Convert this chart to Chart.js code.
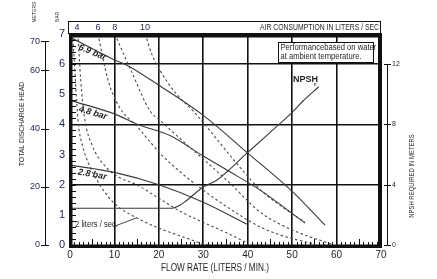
<!DOCTYPE html>
<html>
<head>
<meta charset="utf-8">
<script src="https://cdn.jsdelivr.net/npm/chart.js@4.4.0/dist/chart.umd.min.js"></script>
<style>
  html, body { margin: 0; padding: 0; background: #fff; }
  #wrap { width: 437px; height: 279px; }
</style>
</head>
<body>
<div id="wrap"><canvas id="pump-chart" width="437" height="279"></canvas></div>
<script>
// Pump performance data
// flow in liters/min, head in bar, NPSH in meters
const flowTicks = [0, 10, 20, 30, 40, 50, 60, 70];
const barTicks = [0, 1, 2, 3, 4, 5, 6, 7];
const meterTicks = [0, 20, 40, 60, 70];
const npshTicks = [0, 4, 8, 12];
const airTopLabels = ['4', '6', '8', '10'];
const airTopFlow = [1.6, 6.3, 10.1, 16.9];

// solid pressure curves
const head69Flow = [0, 10, 13, 20, 30, 40, 50, 57.4];
const head69Bar  = [6.9, 6.14, 5.95, 5.3, 4.3, 3.05, 1.78, 0.66];
const head48Flow = [0, 10, 15.3, 22.5, 30, 35.4, 42.8, 52.9];
const head48Bar  = [4.8, 4.35, 4.0, 3.63, 2.95, 2.48, 1.82, 0.73];
const head28Flow = [0, 10, 20, 30, 40];
const head28Bar  = [2.65, 2.41, 2.0, 1.42, 0.68];

// dashed air consumption curves (liters / sec)
const air2Flow  = [0.6, 1.0, 1.4, 1.9, 2.8, 4.2, 6.1, 8, 9.7, 12, 15, 19, 22.5, 26, 29, 31];
const air2Bar   = [7, 6, 5, 4, 3.3, 2.7, 2.14, 1.72, 1.42, 1.15, 0.9, 0.62, 0.42, 0.24, 0.08, 0];
const air4Flow  = [1.8, 2.4, 3.3, 5, 8, 11, 15, 20, 25, 30, 35, 40];
const air4Bar   = [7, 5.5, 4.2, 3.3, 2.6, 2.25, 2.0, 1.55, 1.1, 0.75, 0.42, 0.06];
const air6Flow  = [6.3, 8.5, 11, 15.3, 20.3, 25, 30, 36, 42.8, 48, 55];
const air6Bar   = [7, 5.5, 4.6, 3.9, 3.04, 2.4, 1.82, 1.2, 0.6, 0.3, 0.03];
const air8Flow  = [10.1, 14, 18, 20.3, 25, 30, 36, 42.8, 50, 59];
const air8Bar   = [7, 5.7, 4.45, 4.13, 3.5, 2.85, 2.05, 1.09, 0.5, 0.02];
const air10Flow = [16.9, 18.5, 20.3, 24, 27.7, 32, 37, 42.8, 48, 52.9];
const air10Bar  = [7, 6.3, 5.78, 5.0, 4.45, 3.7, 2.8, 1.84, 1.24, 0.75];

// NPSH required (meters)
const npshFlow = [0, 23, 24.5, 26, 30, 33, 40, 45, 50, 52.5, 56];
const npshM    = [2.44, 2.44, 2.6, 2.9, 3.85, 4.3, 6.14, 7.46, 8.8, 9.57, 10.5];

const FONT = '"Liberation Sans Narrow", "Liberation Sans", sans-serif';
const INK = '#231f20';

function pts(xs, ys) {
    return xs.map((x, i) => ({ x: x, y: ys[i] }));
}

function solid(label, xs, ys) {
    return {
        label: label, data: pts(xs, ys), yAxisID: 'y',
        borderColor: '#3a3a3a', borderWidth: 1.1,
        pointRadius: 0, cubicInterpolationMode: 'monotone', fill: false
    };
}

function dashed(label, xs, ys) {
    return {
        label: label, data: pts(xs, ys), yAxisID: 'y',
        borderColor: '#4a4a4a', borderWidth: 1.1, borderDash: [2.5, 2.5],
        pointRadius: 0, cubicInterpolationMode: 'monotone', fill: false
    };
}

// condensed text helper
function narrowText(c, t, x, y, sx) {
    c.save();
    c.translate(x, y);
    c.scale(sx, 1);
    c.fillText(t, 0, 0);
    c.restore();
}

// frame, header, annotations and the extra axis decorations
const decorPlugin = {
    id: 'decor',
    afterDraw(chart) {
        const c = chart.ctx;
        const a = chart.chartArea;
        const xs = chart.scales.x, ys = chart.scales.y;
        const ms = chart.scales.meters, ns = chart.scales.npsh;
        c.save();
        c.strokeStyle = '#111';
        c.fillStyle = '#111';

        // thick frame
        c.fillRect(a.left - 1, a.top, 3.5, a.bottom - a.top + 2);
        c.fillRect(a.left - 1, a.bottom - 0.5, a.right - a.left + 2, 3.5);
        c.fillRect(a.right - 3, a.top, 4, a.bottom - a.top + 3);
        c.fillRect(a.left - 1, a.top - 1, a.right - a.left + 2, 4.5);

        // ruler ticks on left and bottom borders
        c.lineWidth = 1;
        for (let b = 0.2; b < 7; b += 0.2) {
            const py = Math.round(ys.getPixelForValue(b)) + 0.5;
            c.beginPath(); c.moveTo(a.left + 2, py); c.lineTo(a.left + 6, py); c.stroke();
        }
        for (let f = 1; f < 70; f++) {
            if (f % 10 === 0) continue;
            const px = Math.round(xs.getPixelForValue(f)) + 0.5;
            const len = f % 5 === 0 ? 6 : 3;
            c.beginPath(); c.moveTo(px, a.bottom); c.lineTo(px, a.bottom - len); c.stroke();
        }

        // header box for air consumption
        c.lineWidth = 1;
        c.strokeRect(a.left - 1.5, 21.5, a.right - a.left + 1, 12);
        c.font = '9px ' + FONT;
        c.fillStyle = '#1d2350';
        c.textBaseline = 'middle';
        c.textAlign = 'center';
        airTopLabels.forEach((t, i) => c.fillText(t, xs.getPixelForValue(airTopFlow[i]), 28));
        c.fillStyle = INK;
        c.textAlign = 'right';
        narrowText(c, 'AIR CONSUMPTION IN LITERS / SEC', a.right - 2, 28, 0.76);

        // meters axis line and ticks
        const mx = 45.5;
        c.lineWidth = 1;
        c.beginPath();
        c.moveTo(mx, ms.getPixelForValue(70)); c.lineTo(mx, ms.getPixelForValue(0)); c.stroke();
        meterTicks.forEach(v => {
            const py = Math.round(ms.getPixelForValue(v)) + 0.5;
            c.beginPath(); c.moveTo(41, py); c.lineTo(49, py); c.stroke();
        });

        // npsh axis line and ticks
        const nx = 387.5;
        c.beginPath();
        c.moveTo(nx, ns.getPixelForValue(12)); c.lineTo(nx, ns.getPixelForValue(0)); c.stroke();
        npshTicks.forEach(v => {
            const py = Math.round(ns.getPixelForValue(v)) + 0.5;
            c.beginPath(); c.moveTo(384, py); c.lineTo(391, py); c.stroke();
        });

        // axis titles
        c.fillStyle = INK;
        c.textAlign = 'center';
        c.font = '8px ' + FONT;
        c.save(); c.translate(22, 124); c.rotate(-Math.PI / 2);
        narrowText(c, 'TOTAL DISCHARGE HEAD', 0, 0, 0.85); c.restore();
        c.font = '7px ' + FONT;
        c.save(); c.translate(412, 176); c.rotate(-Math.PI / 2);
        narrowText(c, 'NPSH REQUIRED IN METERS', 0, 0, 0.85); c.restore();
        c.font = '5px ' + FONT;
        c.save(); c.translate(35, 12); c.rotate(-Math.PI / 2);
        c.fillText('METERS', 0, 0); c.restore();
        c.save(); c.translate(58, 17); c.rotate(-Math.PI / 2);
        c.fillText('BAR', 0, 0); c.restore();
        c.font = '10px ' + FONT;
        narrowText(c, 'FLOW RATE (LITERS / MIN.)', 215, 268, 0.82);

        // note box
        c.fillStyle = '#fff';
        c.fillRect(278, 42, 96, 20);
        c.strokeStyle = '#111';
        c.strokeRect(278.5, 42.5, 95, 20);
        c.fillStyle = INK;
        c.textAlign = 'left';
        c.font = '8.3px ' + FONT;
        narrowText(c, 'Performancebased on water', 280.5, 47.5, 0.92);
        narrowText(c, 'at ambient temperature.', 280.5, 57, 0.92);

        // curve labels
        c.font = 'bold italic 9px ' + FONT;
        const curveLabel = (t, x, y, ang) => {
            c.save(); c.translate(x, y); c.rotate(ang * Math.PI / 180);
            c.fillText(t, 0, 0); c.restore();
        };
        curveLabel('6.9 bar', 79, 47, 22);
        curveLabel('4.8 bar', 79, 109, 16);
        curveLabel('2.8 bar', 78, 172, 10);
        c.font = 'bold 9px ' + FONT;
        c.fillText('NPSH', 293, 80);
        c.font = 'bold 6px ' + FONT;
        c.fillText('r', 314, 84);

        // 2 liters / sec label with leader
        c.font = '8.5px ' + FONT;
        narrowText(c, '2 liters / sec.', 75, 225, 0.9);
        c.strokeStyle = '#333';
        c.lineWidth = 0.9;
        c.beginPath();
        c.moveTo(115, 226); c.lineTo(xs.getPixelForValue(15), ys.getPixelForValue(0.9)); c.stroke();
        c.restore();
    }
};

const ctx = document.getElementById('pump-chart');
new Chart(ctx, {
    type: 'line',
    data: {
        datasets: [
            solid('6.9 bar', head69Flow, head69Bar),
            solid('4.8 bar', head48Flow, head48Bar),
            solid('2.8 bar', head28Flow, head28Bar),
            dashed('2 l/s', air2Flow, air2Bar),
            dashed('4 l/s', air4Flow, air4Bar),
            dashed('6 l/s', air6Flow, air6Bar),
            dashed('8 l/s', air8Flow, air8Bar),
            dashed('10 l/s', air10Flow, air10Bar),
            {
                label: 'NPSHr', data: pts(npshFlow, npshM), yAxisID: 'npsh',
                borderColor: '#3a3a3a', borderWidth: 1.1,
                pointRadius: 0, cubicInterpolationMode: 'monotone', fill: false
            }
        ]
    },
    options: {
        responsive: false,
        animation: false,
        events: [],
        layout: { padding: { top: 34, left: 0, right: 0, bottom: 0 } },
        plugins: { legend: { display: false }, tooltip: { enabled: false } },
        scales: {
            x: {
                type: 'linear', min: 0, max: 70,
                afterBuildTicks: s => { s.ticks = flowTicks.map(v => ({ value: v })); },
                afterFit: s => { s.height = 34; },
                border: { display: false },
                grid: {
                    drawTicks: false,
                    color: ctx => (ctx.tick && ctx.tick.value > 0 && ctx.tick.value < 70) ? '#111' : 'rgba(0,0,0,0)',
                    lineWidth: 1.6
                },
                ticks: { color: INK, font: { family: FONT, size: 10 }, padding: 4, maxRotation: 0 }
            },
            y: {
                type: 'linear', position: 'left', min: 0, max: 7, weight: 0,
                afterBuildTicks: s => { s.ticks = barTicks.map(v => ({ value: v })); },
                afterFit: s => { s.width = 22; },
                border: { display: false },
                grid: {
                    drawTicks: false,
                    color: ctx => (ctx.tick && [2, 4, 6].includes(ctx.tick.value)) ? '#111' : 'rgba(0,0,0,0)',
                    lineWidth: 1.6
                },
                ticks: { color: '#1d2350', font: { family: FONT, size: 11 }, padding: 5 }
            },
            meters: {
                type: 'linear', position: 'left', min: 0, max: 72.5, weight: 1,
                afterBuildTicks: s => { s.ticks = meterTicks.map(v => ({ value: v })); },
                afterFit: s => { s.width = 48; },
                border: { display: false },
                grid: { display: false, drawTicks: false },
                ticks: { color: '#1d2350', font: { family: FONT, size: 9 }, padding: 8 }
            },
            npsh: {
                type: 'linear', position: 'right', min: 0, max: 14,
                afterBuildTicks: s => { s.ticks = npshTicks.map(v => ({ value: v })); },
                afterFit: s => { s.width = 56; },
                border: { display: false },
                grid: { display: false, drawTicks: false },
                ticks: { color: INK, font: { family: FONT, size: 7 }, padding: 11 }
            }
        }
    },
    plugins: [decorPlugin]
});
</script>
</body>
</html>
